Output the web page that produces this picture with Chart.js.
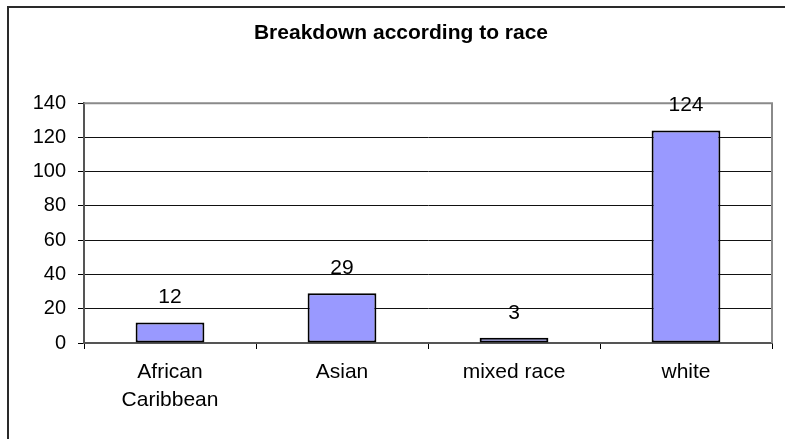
<!DOCTYPE html>
<html>
<head>
<meta charset="utf-8">
<script src="https://cdn.jsdelivr.net/npm/chart.js@4/dist/chart.umd.min.js"></script>
<style>
    html, body { margin: 0; padding: 0; background: #fff; }
    #chartDiv { width: 785px; height: 439px; }
</style>
</head>
<body>
<div id="chartDiv"><canvas id="raceChart" width="785" height="439"></canvas></div>
<script>
// Counts per group
const groups = [["African", "Caribbean"], "Asian", "mixed race", "white"];
const counts = [12, 29, 3, 124];
const yTicks = [0, 20, 40, 60, 80, 100, 120, 140];

const FONT = "'Liberation Sans', Arial, sans-serif";

// white page, outer frame and the grey plot border
const framePlugin = {
    id: 'frame',
    beforeDraw(chart) {
        const ctx = chart.ctx;
        ctx.save();
        ctx.fillStyle = '#fff';
        ctx.fillRect(0, 0, chart.width, chart.height);
        ctx.strokeStyle = '#2a2a2a';
        ctx.lineWidth = 2;
        ctx.beginPath();
        ctx.moveTo(8, chart.height);
        ctx.lineTo(8, 7);
        ctx.lineTo(chart.width, 7);
        ctx.stroke();
        ctx.restore();
    },
    beforeDatasetsDraw(chart) {
        const a = chart.chartArea;
        const ctx = chart.ctx;
        ctx.save();
        ctx.strokeStyle = '#8a8a8a';
        ctx.lineWidth = 2;
        ctx.beginPath();
        ctx.moveTo(a.left, a.top);
        ctx.lineTo(a.right, a.top);
        ctx.lineTo(a.right, a.bottom);
        ctx.stroke();
        ctx.restore();
    }
};

// value printed above each bar
const valueLabels = {
    id: 'valueLabels',
    afterDatasetsDraw(chart) {
        const ctx = chart.ctx;
        const meta = chart.getDatasetMeta(0);
        ctx.save();
        ctx.font = '21px ' + FONT;
        ctx.fillStyle = '#000';
        ctx.textAlign = 'center';
        ctx.textBaseline = 'middle';
        meta.data.forEach(function(bar, i) {
            ctx.fillText(String(counts[i]), bar.x, bar.y - 25);
        });
        ctx.restore();
    }
};

const chartData = {
    labels: groups,
    datasets: [{
        data: counts,
        backgroundColor: '#9999ff',
        borderColor: '#000',
        borderWidth: 2,
        borderSkipped: false,
        barPercentage: 0.4,
        categoryPercentage: 1.0
    }]
};

new Chart(document.getElementById('raceChart'), {
    type: 'bar',
    data: chartData,
    plugins: [framePlugin, valueLabels],
    options: {
        responsive: false,
        animation: false,
        devicePixelRatio: 1,
        // left padding pushes the title centre right; y axis width makes up for it
        layout: { padding: { left: 30, right: 13, top: 0, bottom: 0 } },
        plugins: {
            legend: { display: false },
            tooltip: { enabled: false },
            title: {
                display: true,
                text: 'Breakdown according to race',
                color: '#000',
                font: { family: FONT, size: 21, weight: 'bold', lineHeight: 1.2 },
                padding: { top: 21, bottom: 57 }
            }
        },
        scales: {
            x: {
                grid: { drawOnChartArea: false, drawTicks: true, tickLength: 6, tickColor: '#000', offset: true },
                border: { color: '#555', width: 2 },
                ticks: {
                    color: '#000',
                    maxRotation: 0,
                    autoSkip: false,
                    padding: 10,
                    font: { family: FONT, size: 21, lineHeight: 1.3 }
                },
                afterFit(scale) { scale.height = 96; }
            },
            y: {
                min: 0,
                max: 140,
                afterBuildTicks(scale) {
                    scale.ticks = yTicks.map(v => ({ value: v }));
                },
                grid: {
                    color: ctx => ctx.tick && ctx.tick.value === 140 ? '#8a8a8a' : '#111',
                    lineWidth: 1,
                    tickLength: 6,
                    tickColor: '#000'
                },
                border: { color: '#555', width: 2 },
                ticks: {
                    color: '#000',
                    padding: 12,
                    font: { family: FONT, size: 20 }
                },
                afterFit(scale) { scale.width = 54; }
            }
        }
    }
});
</script>
</body>
</html>
